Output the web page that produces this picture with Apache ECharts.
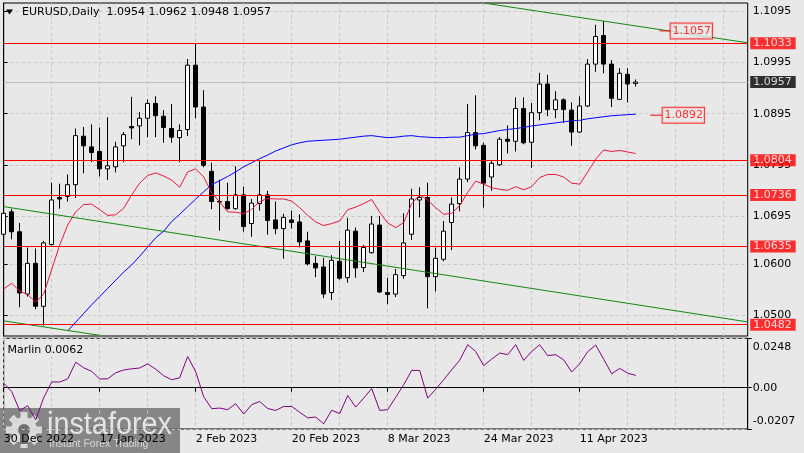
<!DOCTYPE html>
<html><head><meta charset="utf-8">
<script src="https://cdn.jsdelivr.net/npm/echarts@6/dist/echarts.min.js"></script>
<style>html,body{margin:0;padding:0;background:#e8e8e8;}#c{width:804px;height:453px;}</style>
</head><body><div id="c"></div>
<script>
// ---- data ----
const opens  = [1.0659,1.0703,1.0664,1.0542,1.0602,1.0518,1.0639,1.0731,1.0733,1.0756,
                1.0851,1.0830,1.0821,1.0787,1.0791,1.0832,1.0870,1.0871,1.0886,1.0915,
                1.0890,1.0866,1.0848,1.0864,1.0990,1.0908,1.0782,1.0723,1.0723,1.0709,
                1.0736,1.0680,1.0719,1.0736,1.0687,1.0670,1.0687,1.0683,1.0646,1.0602,
                1.0595,1.0545,1.0606,1.0574,1.0665,1.0594,1.0623,1.0677,1.0545,1.0542,
                1.0578,1.0659,1.0726,1.0731,1.0576,1.0610,1.0682,1.0719,1.0767,1.0858,
                1.0833,1.0771,1.0795,1.0845,1.0841,1.0905,1.0839,1.0897,1.0953,1.0903,
                1.0922,1.0902,1.0859,1.0910,1.0992,1.1048,1.0992,1.0923,1.0972,1.0954];
const highs  = [1.0713,1.0709,1.0681,1.0633,1.0631,1.0646,1.0760,1.0758,1.0776,1.0866,
                1.0869,1.0874,1.0868,1.0888,1.0840,1.0859,1.0928,1.0898,1.0923,1.0929,
                1.0902,1.0914,1.0874,1.1002,1.1033,1.0941,1.0799,1.0766,1.0760,1.0792,
                1.0752,1.0728,1.0803,1.0744,1.0723,1.0699,1.0705,1.0698,1.0664,1.0616,
                1.0613,1.0618,1.0646,1.0691,1.0672,1.0638,1.0695,1.0695,1.0574,1.0591,
                1.0700,1.0748,1.0751,1.0760,1.0633,1.0685,1.0731,1.0790,1.0914,1.0931,
                1.0838,1.0802,1.0849,1.0872,1.0927,1.0927,1.0916,1.0975,1.0971,1.0939,
                1.0925,1.0917,1.0929,1.1002,1.1069,1.1076,1.1000,1.0984,1.0984,1.0962];
const lows   = [1.0634,1.0649,1.0516,1.0537,1.0512,1.0480,1.0637,1.0709,1.0723,1.0730,
                1.0778,1.0800,1.0772,1.0765,1.0780,1.0800,1.0845,1.0833,1.0849,1.0849,
                1.0838,1.0838,1.0800,1.0851,1.0886,1.0790,1.0708,1.0666,1.0707,1.0707,
                1.0664,1.0654,1.0705,1.0658,1.0659,1.0611,1.0670,1.0633,1.0598,1.0575,
                1.0534,1.0530,1.0570,1.0564,1.0574,1.0585,1.0621,1.0544,1.0522,1.0536,
                1.0572,1.0648,1.0692,1.0514,1.0547,1.0606,1.0628,1.0704,1.0761,1.0825,
                1.0711,1.0744,1.0793,1.0817,1.0821,1.0835,1.0789,1.0882,1.0890,1.0886,
                1.0877,1.0832,1.0857,1.0908,1.0977,1.0974,1.0908,1.0922,1.0917,1.0948];
const closes = [1.0700,1.0664,1.0544,1.0602,1.0518,1.0642,1.0726,1.0728,1.0756,1.0852,
                1.0832,1.0819,1.0787,1.0793,1.0830,1.0854,1.0867,1.0886,1.0915,1.0891,
                1.0868,1.0849,1.0862,1.0990,1.0908,1.0794,1.0723,1.0722,1.0709,1.0736,
                1.0674,1.0720,1.0736,1.0686,1.0670,1.0692,1.0682,1.0644,1.0601,1.0593,
                1.0542,1.0608,1.0573,1.0667,1.0593,1.0633,1.0679,1.0546,1.0541,1.0580,
                1.0642,1.0728,1.0731,1.0576,1.0612,1.0665,1.0718,1.0767,1.0858,1.0832,
                1.0759,1.0798,1.0845,1.0841,1.0905,1.0838,1.0897,1.0953,1.0903,1.0922,
                1.0903,1.0859,1.0910,1.0992,1.1046,1.0992,1.0925,1.0974,1.0953,1.0957];
const maBlue = [null,null,null,null,null,null,null,null,
                1.0470,1.0487,1.0504,1.0521,1.0537,1.0553,1.0569,1.0585,1.0599,1.0616,
                1.0634,1.0652,1.0665,1.0684,1.0698,1.0713,1.0728,1.0742,1.0756,1.0764,
                1.0772,1.0781,1.0791,1.0799,1.0807,1.0814,1.0822,1.0828,1.0834,1.0838,
                1.0841,1.0842,1.0843,1.0844,1.0845,1.0847,1.0849,1.0851,1.0852,1.0850,
                1.0848,1.0849,1.0851,1.0852,1.0850,1.0849,1.0848,1.0848,1.0849,1.0849,
                1.0852,1.0855,1.0856,1.0859,1.0862,1.0864,1.0866,1.0868,1.0871,1.0873,
                1.0875,1.0877,1.0879,1.0881,1.0882,1.0885,1.0887,1.0889,1.0891,1.0892,
                1.0893,1.0894];
const maRed  = [1.0552,1.0563,1.0548,1.0541,1.0526,1.0542,1.0590,1.0638,1.0677,1.0703,
                1.0717,1.0718,1.0707,1.0696,1.0697,1.0710,1.0736,1.0759,1.0774,1.0779,
                1.0773,1.0765,1.0751,1.0781,1.0787,1.0771,1.0740,1.0722,1.0703,1.0702,
                1.0699,1.0708,1.0723,1.0729,1.0728,1.0728,1.0724,1.0711,1.0696,1.0683,
                1.0676,1.0680,1.0685,1.0707,1.0712,1.0719,1.0727,1.0702,1.0681,1.0672,
                1.0682,1.0719,1.0736,1.0726,1.0711,1.0698,1.0700,1.0715,1.0741,1.0763,
                1.0757,1.0750,1.0747,1.0745,1.0752,1.0746,1.0752,1.0770,1.0776,1.0776,
                1.0771,1.0759,1.0757,1.0781,1.0806,1.0824,1.0821,1.0823,1.0820,1.0817];
const marlin = [0.0023,-0.0019,-0.0115,-0.0090,-0.0161,-0.0050,0.0029,0.0029,0.0044,0.0128,
                0.0100,0.0082,0.0044,0.0045,0.0075,0.0089,0.0095,0.0099,0.0120,0.0093,
                0.0060,0.0040,0.0050,0.0157,0.0080,-0.0045,-0.0105,-0.0102,-0.0110,-0.0080,
                -0.0132,-0.0085,-0.0069,-0.0104,-0.0114,-0.0094,-0.0094,-0.0123,-0.0151,-0.0147,
                -0.0181,-0.0113,-0.0130,-0.0039,-0.0097,-0.0052,-0.0004,-0.0114,-0.0110,-0.0048,
                0.0015,0.0087,0.0087,-0.0052,-0.0008,0.0040,0.0090,0.0138,0.0216,0.0182,
                0.0111,0.0144,0.0174,0.0166,0.0216,0.0137,0.0182,0.0216,0.0161,0.0166,
                0.0140,0.0079,0.0120,0.0181,0.0214,0.0143,0.0070,0.0097,0.0073,0.0062];
const priceTicks  = [1.0500,1.0600,1.0695,1.0795,1.0895,1.0995,1.1095];
const marlinTicks = [-0.0207, 0, 0.0248];
const levels = [1.1033, 1.0804, 1.0736, 1.0635, 1.0482];
const lastPrice = 1.0957;
// trend lines: [bar index, price]
const trendUpper  = [[60, 1.11116], [93, 1.10337]];
const trendLower  = [[0, 1.07131], [93, 1.04874]];
const trendLower2 = [[0, 1.04894], [12, 1.04612]];
// price tags: [start bar, box bar, price]
const tagTrend = [82.0, 83.3, 1.1057];
const tagMA    = [80.8, 82.3, 1.0892];
const titleText = 'EURUSD,Daily  1.0954 1.0962 1.0948 1.0957';
const marlinText = 'Marlin 0.0062';

// categories: trading days from 30 Dec 2022 (incl. empty future slots)
const MON = ['Jan','Feb','Mar','Apr','May','Jun','Jul','Aug','Sep','Oct','Nov','Dec'];
const categories = [];
(function(){ let d = new Date(Date.UTC(2022,11,30));
  while (categories.length < 94) { const w = d.getUTCDay();
    if (w !== 0 && w !== 6) categories.push(d.getUTCDate()+' '+MON[d.getUTCMonth()]+' '+d.getUTCFullYear());
    d.setUTCDate(d.getUTCDate()+1); } })();
const nBars = closes.length;
const lastIdx = categories.length - 1;
const candles = opens.map((o,i) => [o, closes[i], lows[i], highs[i]]);

const FF = '"DejaVu Sans", sans-serif';
const txt = {fontFamily: FF, fontSize: 11, color: '#000'};
const gridDash = {color: '#c6c6c6', width: 1, type: [3,3]};
const PMIN = 1.045985, PMAX = 1.11116;

const chart = echarts.init(document.getElementById('c'), null, {renderer: 'canvas'});

const boxLabel = (v, bg) => ({show: true, position: 'right', distance: 2, formatter: v.toFixed(4),
  backgroundColor: bg, color: '#fff', padding: [0,4,0,3], lineHeight: 12, fontFamily: FF, fontSize: 11});
const tagLabel = (v) => ({show: true, position: 'right', distance: 0, formatter: v.toFixed(4),
  color: '#ff0000', borderColor: '#ff0000', borderWidth: 1, padding: [2,1,1,2], lineHeight: 12,
  fontFamily: FF, fontSize: 11, backgroundColor: '#e8e8e8'});
// helper axis that only draws solid (pixel-snapped) horizontal lines at given values
const lineAxis = (vals, color, z) => ({type: 'value', gridIndex: 0, position: 'right', min: PMIN, max: PMAX, z: z,
  axisLine: {show: false}, axisLabel: {show: false},
  axisTick: {show: false, customValues: vals},
  splitLine: {show: true, lineStyle: {color: color, width: 1, type: 'solid'}}});

chart.setOption({
  animation: false,
  backgroundColor: '#e8e8e8',
  grid: [
    {left: 3.7, right: 56.3, top: 3, height: 333, show: true, borderColor: '#000', borderWidth: 1, backgroundColor: 'transparent'},
    {left: 3.7, right: 56.3, top: 338.3, height: 90.7, show: true, borderColor: '#000', borderWidth: 1, backgroundColor: 'transparent'}
  ],
  xAxis: [
    {type: 'category', gridIndex: 0, data: categories, boundaryGap: false,
     axisLine: {show: false}, axisTick: {show: false}, axisLabel: {show: false},
     splitLine: {show: true, interval: (i) => i % 6 === 0, lineStyle: gridDash}},
    {type: 'category', gridIndex: 1, data: categories, boundaryGap: false,
     axisLine: {show: true, lineStyle: {color: '#000'}},
     axisTick: {show: true, length: 4, interval: (i) => i % 12 === 0 && i < nBars, lineStyle: {color: '#000'}},
     axisLabel: Object.assign({show: true, margin: 5, align: 'left', interval: (i) => i % 12 === 0 && i < nBars}, txt),
     splitLine: {show: true, interval: (i) => i % 6 === 0, lineStyle: gridDash}},
    {type: 'value', gridIndex: 0, min: 0, max: lastIdx, show: false}
  ],
  yAxis: [
    {type: 'value', gridIndex: 0, position: 'right', min: PMIN, max: PMAX,
     axisLine: {show: true, lineStyle: {color: '#000'}},
     axisTick: {show: true, length: 4, customValues: priceTicks, lineStyle: {color: '#000'}},
     axisLabel: Object.assign({show: true, margin: 5, hideOverlap: false, customValues: priceTicks, formatter: (v) => v.toFixed(4)}, txt),
     splitLine: {show: true, lineStyle: gridDash}},
    {type: 'value', gridIndex: 1, position: 'right', min: -0.0207, max: 0.0248,
     axisLine: {show: true, lineStyle: {color: '#000'}},
     axisTick: {show: true, length: 4, customValues: marlinTicks, lineStyle: {color: '#000'}},
     axisLabel: Object.assign({show: true, margin: 5, customValues: marlinTicks,
       formatter: (v) => v === 0 ? '0.00' : (v > 0 ? '{t|' + v.toFixed(4) + '}' : '{b|' + v.toFixed(4) + '}'),
       rich: {t: {padding: [17,0,0,0], fontFamily: FF, fontSize: 11, color: '#000'},
              b: {padding: [0,0,15,0], fontFamily: FF, fontSize: 11, color: '#000'}}}, txt),
     splitLine: {show: true, lineStyle: gridDash}},
    lineAxis([lastPrice], '#bdbdbd', 1),
    lineAxis(levels, '#ff0000', 4)
  ],
  series: [
    {type: 'candlestick', xAxisIndex: 0, yAxisIndex: 0, data: candles, barWidth: 5, clip: true, z: 2,
     itemStyle: {color: '#ffffff', color0: '#000000', borderColor: '#000000', borderColor0: '#000000', borderWidth: 1},
     emphasis: {disabled: true}, silent: true},
    {type: 'scatter', xAxisIndex: 2, yAxisIndex: 0, symbolSize: 1, z: 6, silent: true, clip: false,
     itemStyle: {color: 'rgba(0,0,0,0)'},
     data: levels.map(v => ({value: [lastIdx, v], label: boxLabel(v, '#ff0000')}))
       .concat([{value: [lastIdx, lastPrice], label: boxLabel(lastPrice, '#000000')}])},
    {type: 'line', xAxisIndex: 0, yAxisIndex: 0, data: maBlue, symbol: 'none', z: 3, silent: true,
     lineStyle: {color: '#0000ff', width: 1}},
    {type: 'line', xAxisIndex: 0, yAxisIndex: 0, data: maRed, symbol: 'none', z: 3, silent: true,
     lineStyle: {color: '#e8163c', width: 1}},
    {type: 'line', xAxisIndex: 2, yAxisIndex: 0, data: trendUpper, symbol: 'none', z: 3, silent: true,
     lineStyle: {color: '#118811', width: 1}},
    {type: 'line', xAxisIndex: 2, yAxisIndex: 0, data: trendLower, symbol: 'none', z: 3, silent: true,
     lineStyle: {color: '#118811', width: 1}},
    {type: 'line', xAxisIndex: 2, yAxisIndex: 0, data: trendLower2, symbol: 'none', z: 3, silent: true,
     lineStyle: {color: '#118811', width: 1}},
    {type: 'line', xAxisIndex: 2, yAxisIndex: 0, data: [[tagTrend[0], tagTrend[2]], [tagTrend[1], tagTrend[2]]], symbol: 'none', z: 4, silent: true, clip: false,
     lineStyle: {color: '#ff0000', width: 1}},
    {type: 'line', xAxisIndex: 2, yAxisIndex: 0, data: [[tagMA[0], tagMA[2]], [tagMA[1], tagMA[2]]], symbol: 'none', z: 4, silent: true, clip: false,
     lineStyle: {color: '#ff0000', width: 1}},
    {type: 'scatter', xAxisIndex: 2, yAxisIndex: 0, symbolSize: 1, z: 5, silent: true, clip: false,
     itemStyle: {color: 'rgba(0,0,0,0)'},
     data: [{value: [tagTrend[1], tagTrend[2]], label: tagLabel(tagTrend[2])},
            {value: [tagMA[1], tagMA[2]], label: tagLabel(tagMA[2])}]},
    {type: 'line', xAxisIndex: 1, yAxisIndex: 1, data: marlin, symbol: 'none', z: 3, silent: true,
     lineStyle: {color: '#800080', width: 1}}
  ],
  graphic: [
    {type: 'polygon', shape: {points: [[6,9.5],[13,9.5],[9.5,14.5]]}, style: {fill: '#000'}, z: 50},
    {type: 'text', x: 22, y: 12.5, style: {text: titleText, font: '11px "DejaVu Sans"', fill: '#000', textVerticalAlign: 'middle'}, z: 50},
    {type: 'text', x: 7.5, y: 350, style: {text: marlinText, font: '11px "DejaVu Sans"', fill: '#000', textVerticalAlign: 'middle'}, z: 50},
    {type: 'group', z: 100, children: [
      {type: 'rect', shape: {x: 0, y: 408, width: 180, height: 45}, style: {fill: 'rgba(112,112,112,0.82)'}},
      {type: 'circle', shape: {cx: 24, cy: 430, r: 13}, style: {fill: '#dadada'}},
      ...[0,1,2,3,4,5,6,7].map(k => ({type: 'rect', shape: {x: -3.5, y: -18, width: 7, height: 7},
          x: 24, y: 430, rotation: k * Math.PI / 4, style: {fill: '#dadada'}})),
      {type: 'circle', shape: {cx: 24, cy: 430, r: 6}, style: {fill: 'rgba(112,112,112,1)'}},
      {type: 'rect', shape: {x: 20, y: 430, width: 8, height: 14}, style: {fill: 'rgba(112,112,112,1)'}},
      {type: 'text', x: 47, y: 425, scaleX: 0.93, style: {text: 'instaforex', font: '31px "Liberation Sans"', fill: '#e4e4e4', textVerticalAlign: 'middle'}},
      {type: 'text', x: 49, y: 444, style: {text: 'Instant Forex Trading', font: '10.5px "Liberation Sans"', fill: '#d6d6d6', textVerticalAlign: 'middle'}}
    ]}
  ]
});
</script></body></html>
